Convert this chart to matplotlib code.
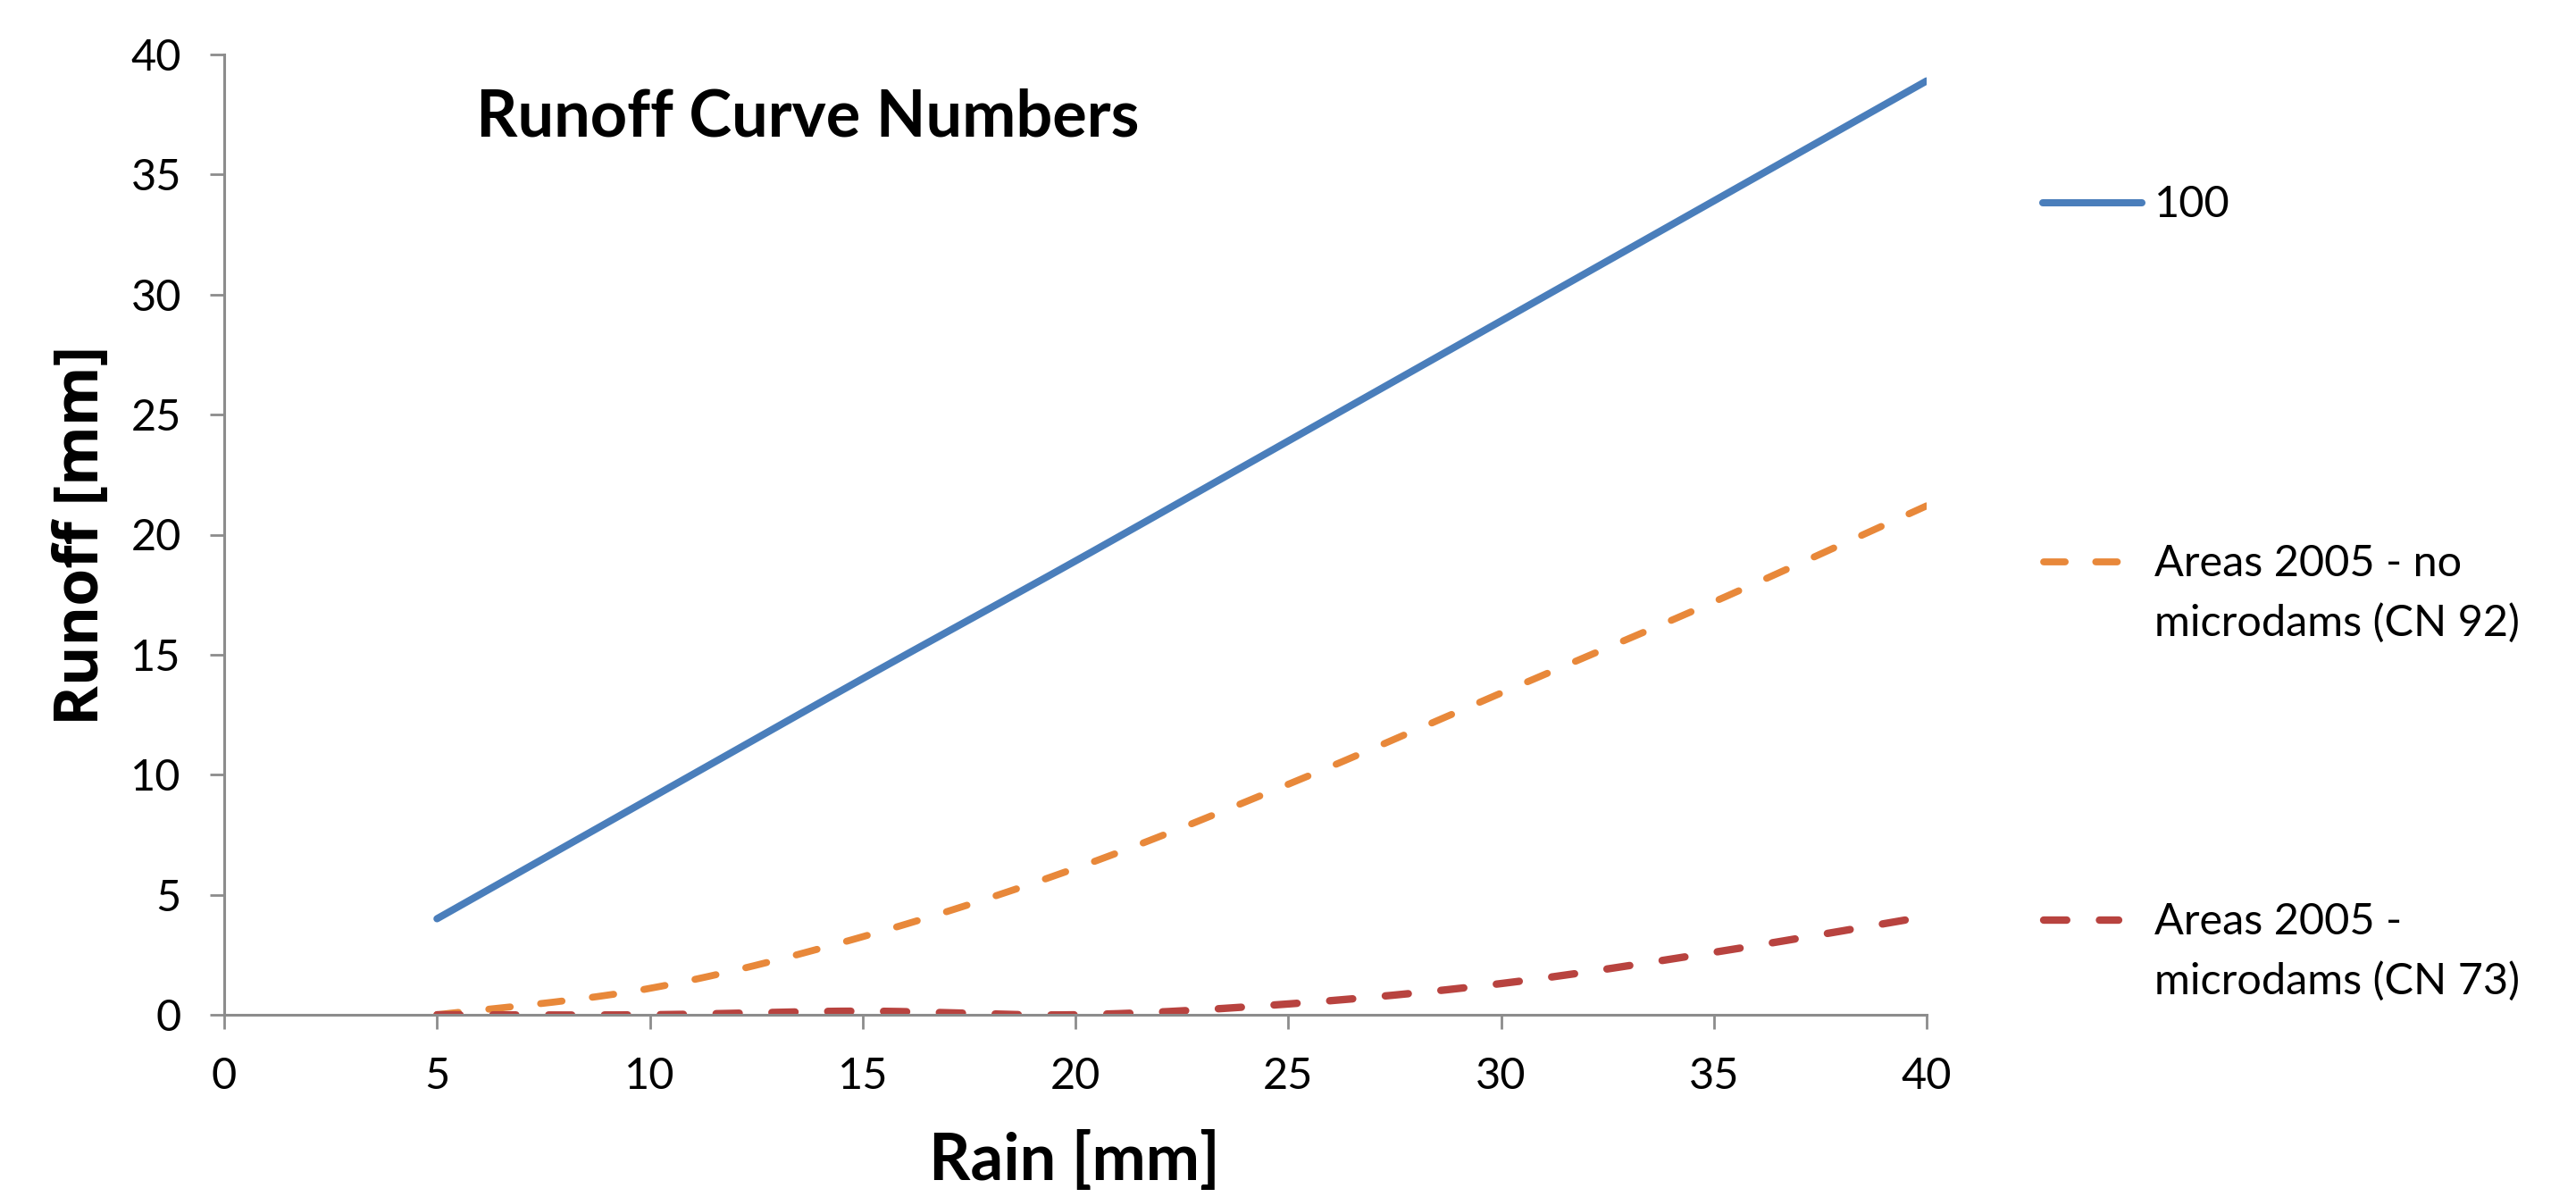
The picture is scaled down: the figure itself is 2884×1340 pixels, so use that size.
import numpy as np
import matplotlib.pyplot as plt
from matplotlib.lines import Line2D

# data
rain = [5, 10, 15, 20, 25, 30, 35, 40]
cn100 = [4.0, 9.0, 14.0, 18.9, 23.9, 28.9, 33.9, 38.9]
cn92 = [0.0, 1.1, 3.25, 6.1, 9.6, 13.4, 17.2, 21.2]
cn73 = [0.0, 0.0, 0.15, 0.0, 0.45, 1.3, 2.6, 4.1]

labels = [["100"],
          ["Areas 2005 - no", "microdams (CN 92)"],
          ["Areas 2005 -", "microdams (CN 73)"]]
xticks = [0, 5, 10, 15, 20, 25, 30, 35, 40]
yticks = [0, 5, 10, 15, 20, 25, 30, 35, 40]

W, H = 2884, 1340


def fx(px):
    return px / W


def fy(py):
    return 1 - py / H


def smooth(x, y, n=40):
    # excel-like smoothed line (bezier through the points)
    x = np.asarray(x, float)
    y = np.asarray(y, float)
    P = np.column_stack([x, y])
    P = np.vstack([P[0], P, P[-1]])
    out = []
    t = np.linspace(0, 1, n)[:, None]
    for i in range(1, len(P) - 2):
        p0, p3 = P[i], P[i + 1]
        c1 = p0 + (P[i + 1] - P[i - 1]) / 6.0
        c2 = p3 - (P[i + 2] - P[i]) / 6.0
        seg = (1 - t) ** 3 * p0 + 3 * (1 - t) ** 2 * t * c1 + 3 * (1 - t) * t ** 2 * c2 + t ** 3 * p3
        out.append(seg if i == 1 else seg[1:])
    out = np.vstack(out)
    return out[:, 0], out[:, 1]


plt.rcParams['font.family'] = ['Lato', 'DejaVu Sans']

fig = plt.figure(figsize=(W / 200, H / 200), dpi=200)
ax = fig.add_axes([fx(251), fy(1136), fx(2157) - fx(251), fy(61) - fy(1136)])

colors = ['#4A7EBB', '#E8883A', '#B8433F']
dash = (3.1, 4.4)
widths = [2.9, 2.8, 3.0]

lines = []
for i, (yv, c, w) in enumerate(zip([cn100, cn92, cn73], colors, widths)):
    sx, sy = smooth(rain, yv)
    ln, = ax.plot(sx, sy, color=c, lw=w, solid_capstyle='round',
                  dash_capstyle='round')
    if i > 0:
        ln.set_dashes(dash)
    lines.append(ln)

ax.set_xlim(0, 40)
ax.set_ylim(0, 40)
ax.set_xticks(xticks)
ax.set_yticks(yticks)
ax.tick_params(axis='both', direction='out', length=5.8, width=1.0,
               color='#8C8C8C', labelsize=17.5)
ax.tick_params(axis='x', pad=11)
ax.tick_params(axis='y', pad=11.5)
for s in ['top', 'right']:
    ax.spines[s].set_visible(False)
for s in ['left', 'bottom']:
    ax.spines[s].set_color('#8C8C8C')
    ax.spines[s].set_linewidth(1.1)

# axis titles
fig.text(fx(1203), fy(1300), 'Rain [mm]', fontsize=26, fontweight='bold',
         ha='center', va='center')
fig.text(fx(92), fy(599), 'Runoff [mm]', fontsize=24.5, fontweight='bold',
         family=['Open Sans', 'DejaVu Sans'], rotation=90,
         ha='center', va='center')

fig.text(fx(533), fy(132), 'Runoff Curve Numbers', fontsize=26,
         fontweight='bold', ha='left', va='center')

# legend, entries placed like the excel one
handle_y = [227, 629, 1030]
handle_x = [(2287, 2398), (2288, 2372), (2288, 2372)]
for ln, lab, hy, (x0, x1) in zip(lines, labels, handle_y, handle_x):
    h = Line2D([fx(x0), fx(x1)], [fy(hy), fy(hy)], transform=fig.transFigure,
               color=ln.get_color(), lw=ln.get_linewidth(),
               solid_capstyle='round', dash_capstyle='round')
    if ln.get_linestyle() != '-':
        h.set_dashes(dash)
    fig.add_artist(h)
    for k, txt in enumerate(lab):
        fig.text(fx(2412), fy(hy + 16 + 67 * k), txt, fontsize=17.5,
                 ha='left', va='baseline')

fig.savefig('out.png', dpi=200, facecolor='white')
